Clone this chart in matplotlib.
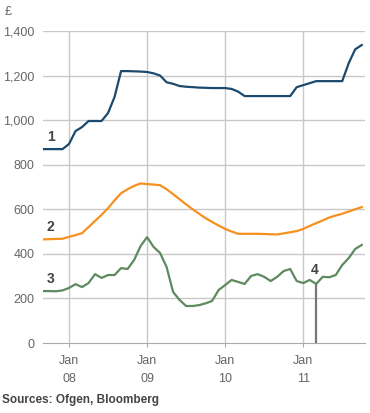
import matplotlib
matplotlib.use("Agg")
import matplotlib.pyplot as plt
import numpy as np

# Months from Sep 2007 (index -4 relative to Jan 2008) to Oct 2011
start_month = -4
series1 = [870, 870, 870, 870, 893, 951, 969, 996, 996, 996, 1032, 1104,
           1220, 1220, 1219, 1218, 1216, 1210, 1200, 1170, 1163, 1153, 1150, 1148,
           1146, 1145, 1144, 1144, 1144, 1140, 1128, 1108, 1108, 1108, 1108, 1108,
           1108, 1108, 1108, 1148, 1157, 1166, 1175, 1175, 1175, 1175, 1175, 1256,
           1318, 1337]
series2 = [465, 466, 467, 468, 476, 484, 493, 520, 548, 575, 605, 640,
           672, 690, 705, 716, 713, 711, 708, 690, 668, 645, 622, 600,
           580, 560, 543, 527, 512, 500, 490, 490, 490, 490, 489, 488,
           487, 492, 497, 502, 512, 525, 538, 550, 563, 572, 580, 590,
           600, 610]
series3 = [233, 233, 232, 236, 247, 264, 251, 269, 309, 292, 305, 305,
           336, 332, 372, 435, 475, 431, 404, 341, 229, 193, 166, 166,
           170, 178, 189, 238, 260, 283, 274, 265, 301, 309, 297, 278,
           297, 323, 332, 278, 269, 283, 265, 297, 295, 305, 350, 381,
           422, 440]
series_labels = ["1", "2", "3"]
marker4_month = 38  # Mar 2011
tick_months = [0, 12, 24, 36]
tick_labels = ["Jan\n08", "Jan\n09", "Jan\n10", "Jan\n11"]
yticks = [0, 200, 400, 600, 800, 1000, 1200, 1400]

months = np.arange(start_month, start_month + len(series1))

fig = plt.figure(figsize=(3.70, 4.13), dpi=100)
ax = fig.add_axes([43/370, 70/413, 322/370, 312/413])

grid_c = "#c8c8c8"
for y in yticks[1:]:
    ax.axhline(y, color=grid_c, lw=1.0, zorder=0)
for m in tick_months:
    ax.axvline(m, color=grid_c, lw=1.0, zorder=0)

colors = ["#1b4a6e", "#f7901e", "#5d8a5e"]
for s, c in zip([series1, series2, series3], colors):
    ax.plot(months, s, color=c, lw=1.6, zorder=3, solid_joinstyle="round")

# marker 4
idx4 = marker4_month - start_month
ax.plot([marker4_month, marker4_month], [0, series3[idx4]], color="#777777", lw=1.6, zorder=2)
ax.text(marker4_month - 0.3, series3[idx4] + 30, "4", fontsize=10, fontweight="bold",
        color="#444444", ha="center", va="bottom", family="Liberation Sans")

# labels 1-3
for lab, s in zip(series_labels, [series1, series2, series3]):
    ax.text(-2.8, s[0] + 25, lab, fontsize=10, fontweight="bold", color="#444444",
            ha="center", va="bottom", family="Liberation Sans")

ax.set_xlim(-4, 45.5)
ax.set_ylim(0, 1400)
ax.set_yticks(yticks)
ax.set_yticklabels([f"{v:,}" for v in yticks])
ax.set_xticks(tick_months)
ax.set_xticklabels(tick_labels)
for sp in ["left", "right", "top"]:
    ax.spines[sp].set_visible(False)
ax.spines["bottom"].set_color("#aaaaaa")
ax.tick_params(axis="y", length=0, pad=6, labelsize=9, labelcolor="#666666")
ax.tick_params(axis="x", length=3, color="#aaaaaa", pad=6, labelsize=9, labelcolor="#666666")
for t in ax.get_xticklabels() + ax.get_yticklabels():
    t.set_family("Liberation Sans")
    t.set_linespacing(1.6)

fig.text(8/370, 1 - 12/413, "£", fontsize=9, color="#666666", ha="center", va="center",
         family="Liberation Sans")
fig.text(2/370, 1 - 400/413, "Sources: Ofgen, Bloomberg", fontsize=8.5, fontweight="bold",
         color="#444444", ha="left", va="center", family="Liberation Sans")

fig.savefig("out.png", dpi=100)
